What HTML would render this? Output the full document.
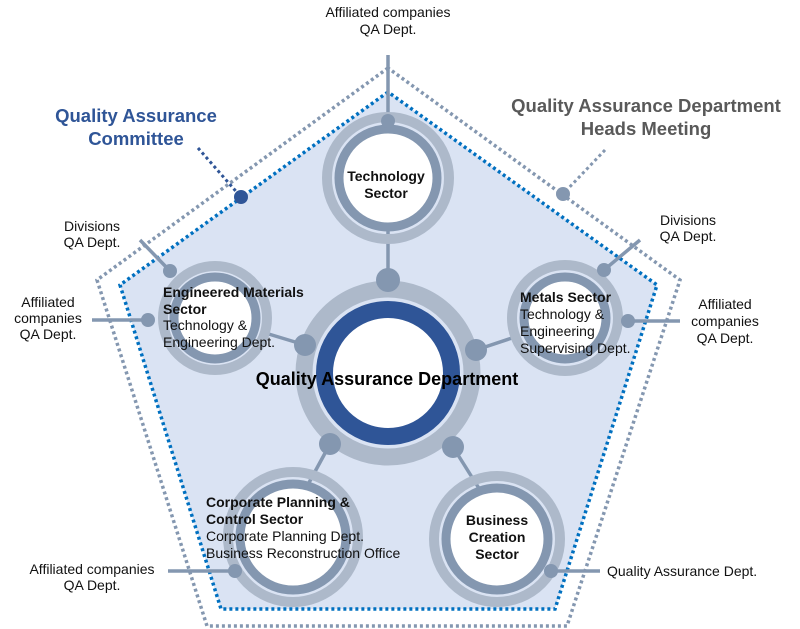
<!DOCTYPE html>
<html><head><meta charset="utf-8"><style>
html,body{margin:0;padding:0;background:#fff;width:800px;height:629px;overflow:hidden}
svg{display:block}
text{font-family:"Liberation Sans",Arial,sans-serif}
</style></head><body>
<svg width="800" height="629" viewBox="0 0 800 629">
<polygon points="388,68 97,280 207,626 567,626 680,280" fill="none" stroke="#8497b0" stroke-width="3.5" stroke-dasharray="3,3"/>
<polygon points="388,92 120,285 221,609 555,609 657,285" fill="#dae3f3" stroke="#0070c0" stroke-width="3.5" stroke-dasharray="3,3"/>
<line x1="198" y1="148" x2="241" y2="197" stroke="#2f5597" stroke-width="3" stroke-dasharray="3,3"/>
<circle cx="241" cy="197" r="7" fill="#2f5597"/>
<line x1="605" y1="150" x2="563" y2="194" stroke="#8497b0" stroke-width="3" stroke-dasharray="3,3"/>
<circle cx="563" cy="194" r="7" fill="#8497b0"/>
<g stroke="#8497b0" stroke-width="3.5">
<line x1="388" y1="55" x2="388" y2="125"/>
<line x1="388" y1="230" x2="388" y2="280"/>
<line x1="262" y1="332" x2="305" y2="345"/>
<line x1="518" y1="336" x2="476" y2="350"/>
<line x1="330" y1="444" x2="305" y2="490"/>
<line x1="453" y1="447" x2="480" y2="490"/>
<line x1="140" y1="240" x2="170" y2="271"/>
<line x1="92" y1="320" x2="148" y2="320"/>
<line x1="640" y1="240" x2="604" y2="270"/>
<line x1="680" y1="321" x2="628" y2="321"/>
<line x1="168" y1="571" x2="235" y2="571"/>
<line x1="551" y1="571" x2="600" y2="571"/>
</g>
<circle cx="388" cy="373" r="84" fill="none" stroke="#adb9ca" stroke-width="17"/>
<circle cx="388" cy="373" r="63.5" fill="#fff" stroke="#2f5597" stroke-width="17"/>
<g>
<circle cx="388" cy="178" r="61" fill="none" stroke="#adb9ca" stroke-width="10"/>
<circle cx="388" cy="178" r="49" fill="#fff" stroke="#8497b0" stroke-width="9"/>
<circle cx="215" cy="318" r="52" fill="none" stroke="#adb9ca" stroke-width="10"/>
<circle cx="215" cy="318" r="41" fill="#fff" stroke="#8497b0" stroke-width="9"/>
<circle cx="565" cy="318" r="53" fill="none" stroke="#adb9ca" stroke-width="10"/>
<circle cx="565" cy="318" r="41" fill="#fff" stroke="#8497b0" stroke-width="9"/>
<circle cx="293" cy="537" r="65" fill="none" stroke="#adb9ca" stroke-width="10"/>
<circle cx="293" cy="537" r="53" fill="#fff" stroke="#8497b0" stroke-width="9"/>
<circle cx="497" cy="539" r="63" fill="none" stroke="#adb9ca" stroke-width="10"/>
<circle cx="497" cy="539" r="51" fill="#fff" stroke="#8497b0" stroke-width="9"/>
</g>
<g fill="#8497b0">
<circle cx="388" cy="280" r="12"/>
<circle cx="305" cy="345" r="11"/>
<circle cx="476" cy="350" r="11"/>
<circle cx="330" cy="444" r="11"/>
<circle cx="453" cy="447" r="11"/>
<circle cx="388" cy="121" r="7"/>
<circle cx="170" cy="271" r="7"/>
<circle cx="148" cy="320" r="7"/>
<circle cx="604" cy="270" r="7"/>
<circle cx="628" cy="321" r="7"/>
<circle cx="235" cy="571" r="7"/>
<circle cx="551" cy="571" r="7"/>
</g>
<g font-size="14" fill="#111">
<text x="388" y="17" text-anchor="middle">Affiliated companies</text>
<text x="388" y="34" text-anchor="middle">QA Dept.</text>
<text x="92" y="231" text-anchor="middle">Divisions</text>
<text x="92" y="247" text-anchor="middle">QA Dept.</text>
<text x="48" y="307" text-anchor="middle">Affiliated</text>
<text x="48" y="323" text-anchor="middle">companies</text>
<text x="48" y="339" text-anchor="middle">QA Dept.</text>
<text x="688" y="225" text-anchor="middle">Divisions</text>
<text x="688" y="241" text-anchor="middle">QA Dept.</text>
<text x="725" y="309" text-anchor="middle">Affiliated</text>
<text x="725" y="326" text-anchor="middle">companies</text>
<text x="725" y="343" text-anchor="middle">QA Dept.</text>
<text x="92" y="574" text-anchor="middle">Affiliated companies</text>
<text x="92" y="590" text-anchor="middle">QA Dept.</text>
<text x="607" y="576">Quality Assurance Dept.</text>
<text x="163" y="330">Technology &amp;</text>
<text x="163" y="347">Engineering Dept.</text>
<text x="520" y="319">Technology &amp;</text>
<text x="520" y="336">Engineering</text>
<text x="520" y="353">Supervising Dept.</text>
<text x="206" y="541">Corporate Planning Dept.</text>
<text x="206" y="558">Business Reconstruction Office</text>
</g>
<g font-size="14" font-weight="bold" fill="#111">
<text x="386" y="181" text-anchor="middle">Technology</text>
<text x="386" y="198" text-anchor="middle">Sector</text>
<text x="163" y="297">Engineered Materials</text>
<text x="163" y="314">Sector</text>
<text x="520" y="302">Metals Sector</text>
<text x="206" y="507">Corporate Planning &amp;</text>
<text x="206" y="524">Control Sector</text>
<text x="497" y="525" text-anchor="middle">Business</text>
<text x="497" y="542" text-anchor="middle">Creation</text>
<text x="497" y="559" text-anchor="middle">Sector</text>
</g>
<text x="387" y="385" text-anchor="middle" font-size="18" font-weight="bold" fill="#000">Quality Assurance Department</text>
<g font-size="18.5" font-weight="bold" fill="#2f5597">
<text x="136" y="122" text-anchor="middle">Quality Assurance</text>
<text x="136" y="145" text-anchor="middle">Committee</text>
</g>
<g font-size="18.5" font-weight="bold" fill="#595959">
<text x="646" y="112" text-anchor="middle">Quality Assurance Department</text>
<text x="646" y="135" text-anchor="middle">Heads Meeting</text>
</g>
</svg>
</body></html>
